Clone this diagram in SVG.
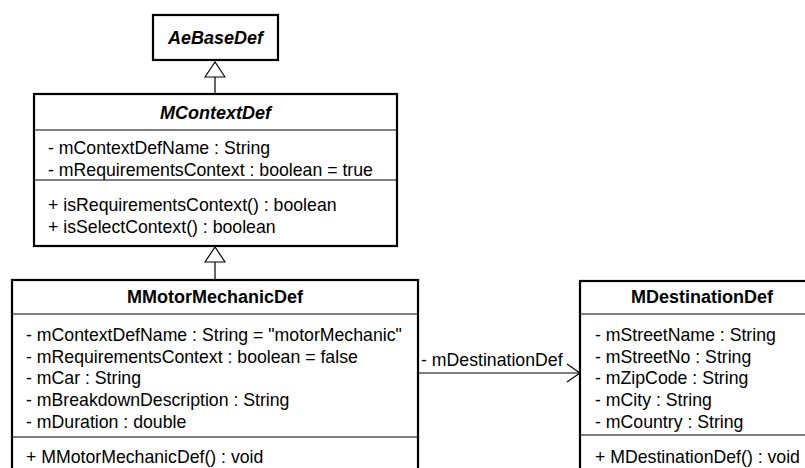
<svg xmlns="http://www.w3.org/2000/svg" width="805" height="468" viewBox="0 0 805 468">
<style>
.box{fill:#fff;stroke:#000;stroke-width:2.2}
.sep{stroke:#000;stroke-width:1.2;fill:none}
.line{stroke:#000;stroke-width:1.2;fill:none}
text{font-family:"Liberation Sans",Arial,Helvetica,sans-serif;font-size:17.7px;fill:#000}
.title{font-weight:bold;text-anchor:middle;font-size:18px}
.abs{font-style:italic}
</style>
<defs>
<marker id="gen" markerUnits="userSpaceOnUse" viewBox="-1 -1 17 22" refX="15" refY="10" markerWidth="17" markerHeight="22" orient="auto">
<path d="M0,0 L15,10 L0,20 Z" fill="#fff" stroke="#000" stroke-width="1.2"/>
</marker>
<marker id="open" markerUnits="userSpaceOnUse" viewBox="-1 -1 16 20" refX="13" refY="9" markerWidth="16" markerHeight="20" orient="auto">
<path d="M0,0 L13,9 L0,18" fill="none" stroke="#000" stroke-width="1.2"/>
</marker>
</defs>
<rect width="805" height="468" fill="#fff"/>
<g id="connectors">
<path class="line" d="M215,94 L215,62" marker-end="url(#gen)"/>
<path class="line" d="M215,280 L215,247" marker-end="url(#gen)"/>
<path class="line" d="M418,373 L580,373" marker-end="url(#open)"/>
<text x="421" y="366">- mDestinationDef</text>
</g>
<g id="AeBaseDef">
<rect class="box" x="153" y="15" width="125" height="45"/>
<text class="title abs" x="215.5" y="44">AeBaseDef</text>
</g>
<g id="MContextDef">
<rect class="box" x="34" y="94" width="363" height="152"/>
<text class="title abs" x="215.5" y="119">MContextDef</text>
<line class="sep" x1="34" y1="130" x2="397" y2="130"/>
<text x="48" y="154">- mContextDefName : String</text>
<text x="48" y="176">- mRequirementsContext : boolean = true</text>
<line class="sep" x1="34" y1="180" x2="397" y2="180"/>
<text x="48" y="211">+ isRequirementsContext() : boolean</text>
<text x="48" y="233">+ isSelectContext() : boolean</text>
</g>
<g id="MMotorMechanicDef">
<rect class="box" x="12" y="280" width="406" height="200"/>
<text class="title" x="215" y="303">MMotorMechanicDef</text>
<line class="sep" x1="12" y1="314" x2="418" y2="314"/>
<text x="26" y="341">- mContextDefName : String = "motorMechanic"</text>
<text x="26" y="363">- mRequirementsContext : boolean = false</text>
<text x="26" y="384">- mCar : String</text>
<text x="26" y="406">- mBreakdownDescription : String</text>
<text x="26" y="428">- mDuration : double</text>
<line class="sep" x1="12" y1="437" x2="418" y2="437"/>
<text x="26" y="463">+ MMotorMechanicDef() : void</text>
</g>
<g id="MDestinationDef">
<rect class="box" x="580" y="281" width="244" height="200"/>
<text class="title" x="702" y="303">MDestinationDef</text>
<line class="sep" x1="580" y1="314" x2="824" y2="314"/>
<text x="595" y="341">- mStreetName : String</text>
<text x="595" y="363">- mStreetNo : String</text>
<text x="595" y="384">- mZipCode : String</text>
<text x="595" y="406">- mCity : String</text>
<text x="595" y="428">- mCountry : String</text>
<line class="sep" x1="580" y1="435" x2="824" y2="435"/>
<text x="595" y="463">+ MDestinationDef() : void</text>
</g>
</svg>
